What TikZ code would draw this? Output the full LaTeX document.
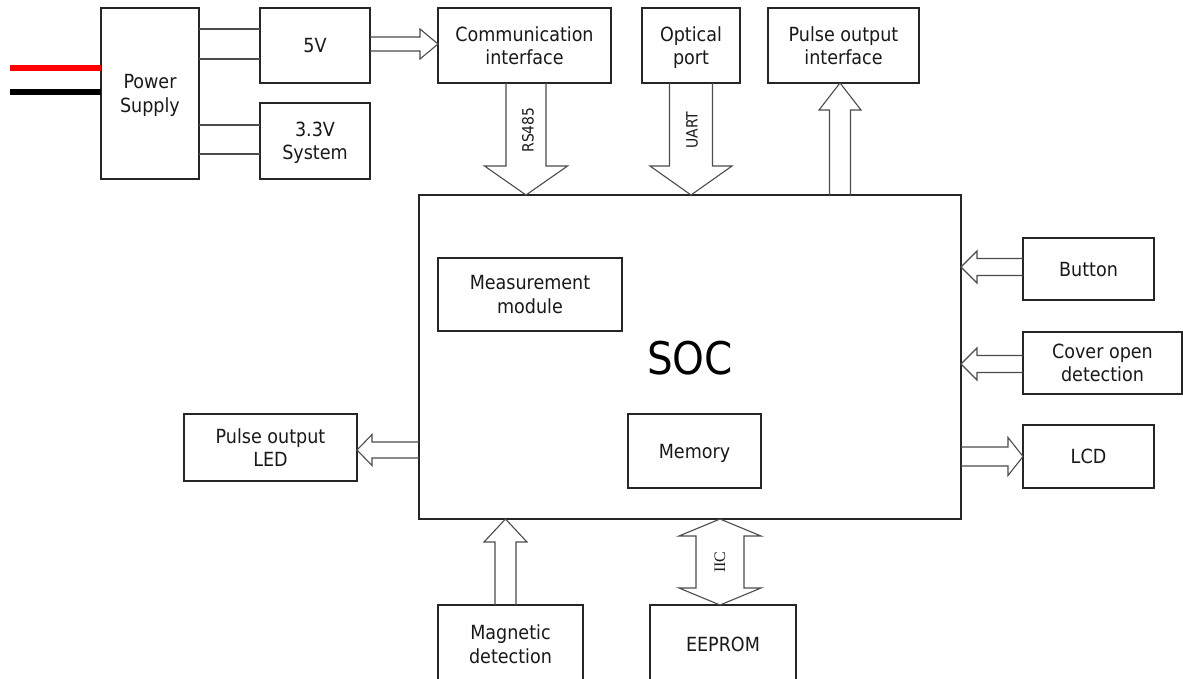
\documentclass[tikz,border=0pt]{standalone}
\usepackage{fontspec}
\setmainfont{DejaVu Sans Condensed}
\newfontfamily\serifx{Liberation Serif}
\usetikzlibrary{calc}
\tikzset{
  box/.style={draw=black!85, line width=1.1pt, inner sep=0pt, outer sep=0pt, align=center,
    text=black!90, font=\fontsize{19.5}{23.5}\selectfont, anchor=north west, text depth=0pt},
  wire/.style={draw=black!70, line width=1.1pt},
  harr/.style={draw=black!70, line width=1.1pt, line join=miter},
  lbl/.style={font=\fontsize{15.5}{18}\selectfont, rotate=90, inner sep=0pt, text=black!90},
  cable/.style={line width=6pt},
}
% #2 start, #3 tip, #4 shaft half width, #5 head half width, #6 head length
\newcommand\harrow[6][]{%
  \coordinate (hA) at #2;
  \coordinate (hB) at #3;
  \coordinate (hH) at ($(hB)!#6pt!(hA)$);
  \draw[harr,#1] ($(hA)!#4pt!90:(hB)$) -- ($(hH)!#4pt!90:(hB)$) -- ($(hH)!#5pt!90:(hB)$)
    -- (hB) -- ($(hH)!#5pt!-90:(hB)$) -- ($(hH)!#4pt!-90:(hB)$) -- ($(hA)!#4pt!-90:(hB)$);
}
\newcommand\hdarrow[6][]{%
  \coordinate (hA) at #2;
  \coordinate (hB) at #3;
  \coordinate (hH1) at ($(hA)!#6pt!(hB)$);
  \coordinate (hH2) at ($(hB)!#6pt!(hA)$);
  \draw[harr,#1] ($(hH1)!#4pt!90:(hB)$) -- ($(hH2)!#4pt!90:(hB)$) -- ($(hH2)!#5pt!90:(hB)$)
    -- (hB) -- ($(hH2)!#5pt!-90:(hB)$) -- ($(hH2)!#4pt!-90:(hB)$) -- ($(hH1)!#4pt!-90:(hB)$)
    -- ($(hH1)!#5pt!-90:(hB)$) -- (hA) -- ($(hH1)!#5pt!90:(hB)$) -- cycle;
}
\begin{document}
\begin{tikzpicture}[x=1pt,y=-1pt]
\useasboundingbox (0,0) rectangle (1183,678);
\fill[white] (0,0) rectangle (1183,678);

% boxes
\node[box, minimum width=98pt, minimum height=171pt] (ps) at (101,8) {Power\\Supply};
\node[box, minimum width=110pt, minimum height=75pt] (v5) at (260,8) {5V};
\node[box, minimum width=110pt, minimum height=76pt] (v33) at (260,103) {3.3V\\System};
\node[box, minimum width=173pt, minimum height=75pt] (comm) at (438,8) {Communication\\interface};
\node[box, minimum width=98pt, minimum height=75pt] (opt) at (642,8) {Optical\\port};
\node[box, minimum width=151pt, minimum height=75pt] (poi) at (768,8) {Pulse output\\interface};
\node[box, minimum width=542pt, minimum height=324pt] (soc) at (419,195) {};
\node[font=\fontsize{45}{50}\selectfont, text=black, inner sep=0pt] (soclbl) at (690,358) {SOC};
\node[box, minimum width=184pt, minimum height=73pt] (meas) at (438,258) {Measurement\\module};
\node[box, minimum width=133pt, minimum height=74pt] (mem) at (628,414) {Memory};
\node[box, minimum width=173pt, minimum height=67pt] (led) at (184,414) {Pulse output\\LED};
\node[box, minimum width=131pt, minimum height=62pt] (btn) at (1023,238) {Button};
\node[box, minimum width=159pt, minimum height=62pt] (cov) at (1023,332) {Cover open\\detection};
\node[box, minimum width=131pt, minimum height=63pt] (lcd) at (1023,425) {LCD};
\node[box, minimum width=145pt, minimum height=78pt] (mag) at (438,605) {Magnetic\\detection};
\node[box, minimum width=146pt, minimum height=78pt] (eep) at (650,605) {EEPROM};

% power cables
\coordinate (rin) at (10,68);
\coordinate (bin) at (10,92);
\draw[cable, red] (rin) -- (rin -| ps.west);
\draw[cable, black] (bin) -- (bin -| ps.west);

% power wires
\draw[wire] ($(v5.north west)+(0,21)$) coordinate (w1) -- (w1 -| ps.east);
\draw[wire] ($(v5.north west)+(0,51)$) coordinate (w2) -- (w2 -| ps.east);
\draw[wire] ($(v33.north west)+(0,22)$) coordinate (w3) -- (w3 -| ps.east);
\draw[wire] ($(v33.north west)+(0,51)$) coordinate (w4) -- (w4 -| ps.east);

% hollow arrows
\harrow{([yshift=1.5pt]v5.east)}{(hA -| comm.west)}{7}{15}{18}
\harrow{([xshift=1.5pt]comm.south)}{(hA |- soc.north)}{20}{41.5}{29}
\harrow{(opt.south)}{(hA |- soc.north)}{21.5}{41}{29}
\harrow{([xshift=-3.5pt]poi.south |- soc.north)}{(hA |- poi.south)}{10.5}{21}{27}
\harrow{([xshift=-5pt]mag.north)}{(hA |- soc.south)}{10.5}{21.5}{23}
\hdarrow{([xshift=-3pt]eep.north |- soc.south)}{(hA |- eep.north)}{24}{41}{17}
\harrow{([yshift=-2.5pt]led.east -| soc.west)}{(hA -| led.east)}{8}{15.5}{15}
\harrow{([yshift=2pt]btn.west)}{(hA -| soc.east)}{8.5}{16}{16}
\harrow{([yshift=-1pt]cov.west)}{(hA -| soc.east)}{8.5}{16}{16}
\harrow{(lcd.west -| soc.east)}{(hA -| lcd.west)}{9.5}{19}{15}

% arrow labels
\node[lbl] (rs) at (528,130) {RS485};
\node[lbl] (uart) at (692,130) {UART};
\node[lbl, font=\serifx\fontsize{16}{18}\selectfont] (iic) at (720,562) {IIC};
\end{tikzpicture}
\end{document}
